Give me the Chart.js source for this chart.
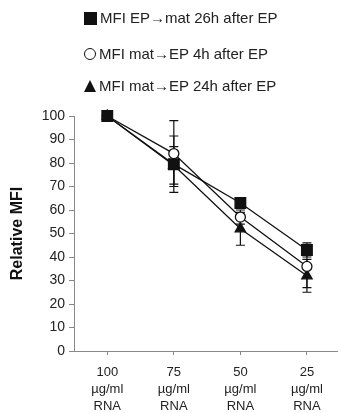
<!DOCTYPE html>
<html>
<head>
<meta charset="utf-8">
<script src="https://cdn.jsdelivr.net/npm/chart.js@4.4.1/dist/chart.umd.min.js"></script>
<style>
  html, body { margin: 0; padding: 0; background: #fff; overflow: hidden; width: 338px; height: 413px; }
  #wrap { position: relative; width: 338px; height: 413px; overflow: hidden; }
  canvas { position: absolute; left: 0; top: 0; }
  .leg { position: absolute; left: 84px; font-family: "Liberation Sans", Arial, sans-serif; font-size: 15px; color: #222; white-space: nowrap; line-height: 16px; }
  .sym { display: inline-block; vertical-align: middle; margin-right: 3px; box-sizing: border-box; }
  .sq { width: 13px; height: 13px; background: #111; }
  .ci { width: 12px; height: 12px; border: 1.6px solid #111; border-radius: 50%; background: #fff; }
  .tr { width: 0; height: 0; border-left: 6.5px solid transparent; border-right: 6.5px solid transparent; border-bottom: 12px solid #111; }
  .txt { vertical-align: middle; }
</style>
</head>
<body>
<div id="wrap">
  <canvas id="c" width="349" height="413"></canvas>
  <div class="leg" style="top:9px"><span class="sym sq"></span><span class="txt">MFI EP→mat 26h after EP</span></div>
  <div class="leg" style="top:45px"><span class="sym ci"></span><span class="txt">MFI mat→EP 4h after EP</span></div>
  <div class="leg" style="top:77px"><span class="sym tr"></span><span class="txt">MFI mat→EP 24h after EP</span></div>
</div>
<script>
const categories = [["100", "µg/ml", "RNA"], ["75", "µg/ml", "RNA"], ["50", "µg/ml", "RNA"], ["25", "µg/ml", "RNA"]];
const seriesNames = ["MFI EP→mat 26h after EP", "MFI mat→EP 4h after EP", "MFI mat→EP 24h after EP"];
const epMat26h = [100, 79.5, 63, 43];
const matEp4h = [100, 84, 57, 36];
const matEp24h = [100, 79, 52, 32];
const epMat26hErr = [0, 12, 2, 3];
const matEp4hErr = [0, 14, 3, 9];
const matEp24hErr = [0, 8, 7, 7];
const yTicks = [0, 10, 20, 30, 40, 50, 60, 70, 80, 90, 100];

const errorBars = {
  id: 'errorBars',
  beforeDatasetsDraw(chart) {
    const ctx = chart.ctx;
    const y = chart.scales.y;
    ctx.save();
    ctx.strokeStyle = '#111';
    ctx.lineWidth = 1.2;
    chart.data.datasets.forEach((ds, di) => {
      const meta = chart.getDatasetMeta(di);
      meta.data.forEach((pt, i) => {
        const e = ds.errors[i];
        if (!e) return;
        const v = ds.data[i];
        const yt = y.getPixelForValue(v + e);
        const yb = y.getPixelForValue(v - e);
        const x = pt.x;
        ctx.beginPath();
        ctx.moveTo(x, yt); ctx.lineTo(x, yb);
        ctx.moveTo(x - 4.5, yt); ctx.lineTo(x + 4.5, yt);
        ctx.moveTo(x - 4.5, yb); ctx.lineTo(x + 4.5, yb);
        ctx.stroke();
      });
    });
    ctx.restore();
  }
};

const common = { borderColor: '#111', borderWidth: 1.3, pointBorderColor: '#111', pointBorderWidth: 1.3, tension: 0, fill: false, clip: false };

new Chart(document.getElementById('c'), {
  type: 'line',
  data: {
    labels: categories,
    datasets: [
      Object.assign({ label: seriesNames[0], data: epMat26h, errors: epMat26hErr, pointStyle: 'rect', pointRadius: 7.5, pointBackgroundColor: '#111' }, common),
      Object.assign({ label: seriesNames[1], data: matEp4h, errors: matEp4hErr, pointStyle: 'circle', pointRadius: 5, pointBackgroundColor: '#fff' }, common),
      Object.assign({ label: seriesNames[2], data: matEp24h, errors: matEp24hErr, pointStyle: 'triangle', pointRadius: 6, pointBackgroundColor: '#111' }, common)
    ]
  },
  options: {
    responsive: false,
    animation: false,
    devicePixelRatio: 1,
    layout: { padding: { top: 116, left: 0, right: 0, bottom: 0 } },
    plugins: { legend: { display: false }, tooltip: { enabled: false } },
    scales: {
      x: {
        type: 'category',
        offset: true,
        border: { display: true, color: '#888', width: 1 },
        grid: { display: true, drawOnChartArea: false, drawTicks: true, tickLength: 4, color: '#888', offset: false },
        ticks: { color: '#222', padding: 9, font: { family: '"Liberation Sans", Arial, sans-serif', size: 13, lineHeight: 1.3 }, maxRotation: 0, autoSkip: false },
        afterFit: s => { s.height = 62; }
      },
      y: {
        min: 0, max: 100,
        afterBuildTicks: s => { s.ticks = yTicks.map(v => ({ value: v })); },
        border: { display: true, color: '#888', width: 1 },
        grid: { display: true, drawOnChartArea: false, drawTicks: true, tickLength: 5, color: '#888' },
        ticks: { color: '#222', padding: 4, font: { family: '"Liberation Sans", Arial, sans-serif', size: 14 } },
        title: { display: true, text: 'Relative MFI', color: '#111', font: { family: '"Liberation Sans", Arial, sans-serif', size: 16, weight: 'bold' }, padding: { top: 8, bottom: 0 } },
        afterFit: s => { s.width = 74; }
      }
    }
  },
  plugins: [errorBars]
});
</script>
</body>
</html>
